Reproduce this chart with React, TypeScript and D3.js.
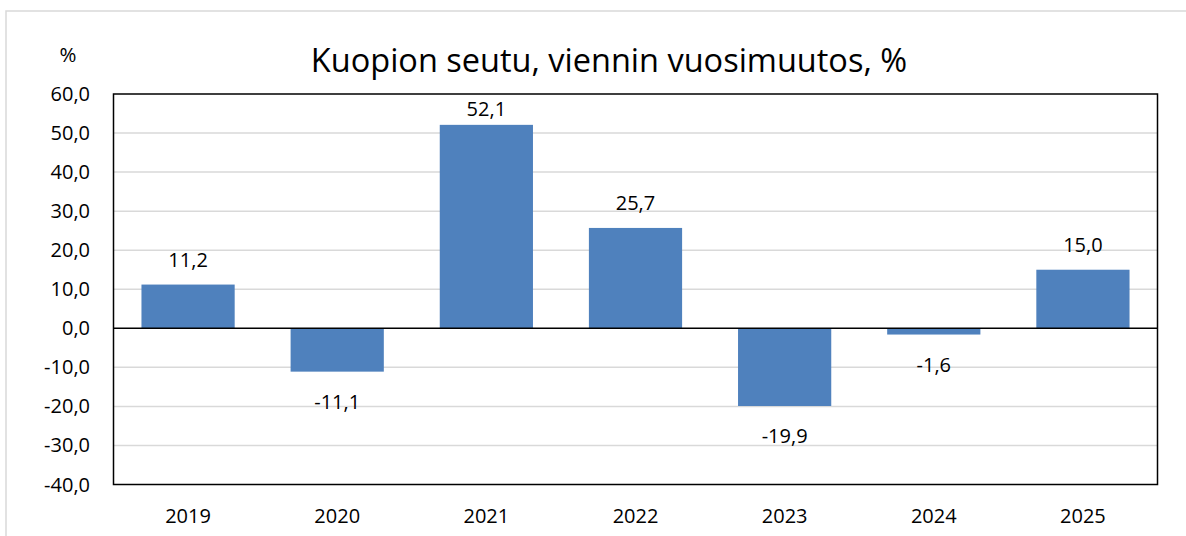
import React from "react";
import * as d3 from "d3";

const years = ["2019", "2020", "2021", "2022", "2023", "2024", "2025"];
const changes = [11.2, -11.1, 52.1, 25.7, -19.9, -1.6, 15.0];
const yTicks = [-40, -30, -20, -10, 0, 10, 20, 30, 40, 50, 60];
const title = "Kuopion seutu, viennin vuosimuutos, %";
const unitLabel = "%";

const W = 1186;
const H = 536;
const FONT = "'Open Sans', 'Liberation Sans', sans-serif";

const fmt = (v: number) => v.toFixed(1).replace(".", ",");

export default function App() {
  const left = 113.5;
  const right = 1157.5;
  const top = 94;
  const bottom = 484.5;

  const x = d3
    .scaleBand<string>()
    .domain(years)
    .range([left, right])
    .paddingInner(0.375)
    .paddingOuter(0.1875);
  const y = d3.scaleLinear().domain([-40, 60]).range([bottom, top]);

  return (
    <svg
      width={W}
      height={H}
      style={{ position: "absolute", left: 0, top: 0, background: "#fff" }}
      fontFamily={FONT}
    >
      <rect x={6} y={11} width={1300} height={600} fill="#fff" stroke="#d9d9d9" strokeWidth={1.5} />
      <text x={609} y={72} textAnchor="middle" fontSize={32.5} fill="#000">
        {title}
      </text>
      <text x={68} y={62} textAnchor="middle" fontSize={20.5} fill="#000">
        {unitLabel}
      </text>
      {yTicks.map((t) => (
        <g key={t}>
          {t !== 0 && t !== 60 && t !== -40 && (
            <line x1={left} x2={right} y1={y(t)} y2={y(t)} stroke="#d9d9d9" strokeWidth={1.5} />
          )}
          <text x={90} y={y(t) + 7} textAnchor="end" fontSize={20} fill="#000">
            {fmt(t)}
          </text>
        </g>
      ))}
      {years.map((yr, i) => {
        const v = changes[i];
        const x0 = x(yr)!;
        const y0 = Math.min(y(v), y(0));
        const h = Math.abs(y(v) - y(0));
        const cx = x0 + x.bandwidth() / 2;
        const ly = v >= 0 ? Math.max(y(v) - 18, y(60) + 22) : y(v) + 37;
        return (
          <g key={yr}>
            <rect x={x0} y={y0} width={x.bandwidth()} height={h} fill="#4f81bd" />
            <text x={cx} y={ly} textAnchor="middle" fontSize={20} fill="#000">
              {fmt(v)}
            </text>
            <text x={cx} y={523} textAnchor="middle" fontSize={20} fill="#000">
              {yr}
            </text>
          </g>
        );
      })}
      <line x1={left} x2={right} y1={y(0)} y2={y(0)} stroke="#000" strokeWidth={1.5} />
      <rect
        x={left}
        y={top}
        width={right - left}
        height={bottom - top}
        fill="none"
        stroke="#000"
        strokeWidth={1.5}
      />
    </svg>
  );
}
